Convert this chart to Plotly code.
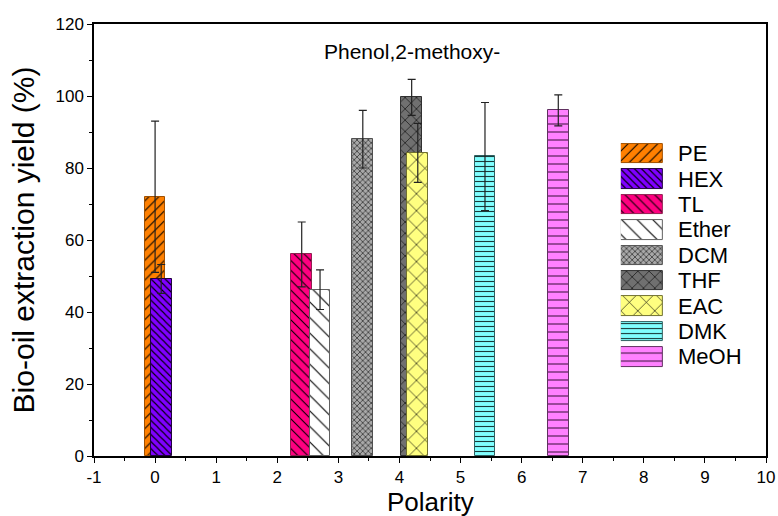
import plotly.graph_objects as go

solvents = ["PE", "HEX", "TL", "Ether", "DCM", "THF", "EAC", "DMK", "MeOH"]
polarity = [0.0, 0.1, 2.4, 2.7, 3.4, 4.2, 4.3, 5.4, 6.6]
yield_pct = [72.0, 49.2, 56.0, 46.2, 88.0, 99.6, 84.2, 83.2, 96.0]
yield_err = [21.0, 4.0, 9.0, 5.5, 8.0, 5.0, 8.2, 15.0, 4.3]
x_ticks = [-1, 0, 1, 2, 3, 4, 5, 6, 7, 8, 9, 10]
x_ticktext = ["-1", "0", "1", "2", "3", "4", "5", "6", "7", "8", "9", "10"]

fill_colors = ["#FF8000", "#7F00FF", "#FF0080", "#FFFFFF", "#A8A8A8",
               "#707070", "#FFFF80", "#80FFFF", "#FF80FF"]
edge_colors = ["#A05000", "#200040", "#902050", "#606060", "#505050",
               "#303030", "#707030", "#306060", "#603060"]
pattern_shapes = ["/", "\\", "\\", "\\", "x", "x", "x", "-", "-"]
pattern_sizes = [7, 5, 7, 11, 4, 8, 12, 5, 8]
pattern_solid = [0.15, 0.22, 0.15, 0.1, 0.25, 0.14, 0.1, 0.22, 0.14]
pattern_fg = ["#000000", "#000000", "#000000", "#000000", "#000000",
              "#000000", "#000000", "#1A3A3A", "#4A1A4A"]

BAR_W = 0.34
FONT = "Liberation Sans, Arial, sans-serif"

fig = go.Figure()


def pattern(i):
    return dict(shape=pattern_shapes[i], size=pattern_sizes[i], solidity=pattern_solid[i],
                fgcolor=pattern_fg[i], bgcolor=fill_colors[i], fillmode="replace")


for i, name in enumerate(solvents):
    fig.add_trace(go.Bar(
        x=[polarity[i]], y=[yield_pct[i]], width=BAR_W, name=name,
        marker=dict(color=fill_colors[i], pattern=pattern(i),
                    line=dict(color=edge_colors[i], width=1)),
        error_y=dict(type="data", array=[yield_err[i]], color="#222222",
                     thickness=1.2, width=4),
        showlegend=False, xaxis="x", yaxis="y",
    ))

# custom legend with large patterned swatches
LEG_X0, LEG_X1 = 0.784, 0.847
LEG_Y0, LEG_Y1 = 0.1998, 0.729
n = len(solvents)
for i, name in enumerate(solvents):
    fig.add_trace(go.Bar(
        x=[1], y=[i], base=0, orientation="h", width=0.77,
        marker=dict(color=fill_colors[i], pattern=pattern(i),
                    line=dict(color=edge_colors[i], width=1)),
        showlegend=False, xaxis="x2", yaxis="y2", hoverinfo="skip",
    ))
    ypaper = LEG_Y1 - (i + 0.5) / n * (LEG_Y1 - LEG_Y0)
    fig.add_annotation(x=0.866, y=ypaper, xref="paper", yref="paper", text=name,
                       showarrow=False, xanchor="left", yanchor="middle",
                       font=dict(family=FONT, size=22, color="black"))

fig.add_annotation(x=4.2, y=112.5, xref="x", yref="y", text="Phenol,2-methoxy-",
                   showarrow=False, font=dict(family=FONT, size=21, color="black"))

# x-axis title placed just below the tick labels
fig.add_annotation(x=0.5, y=-0.145, xref="paper", yref="paper", text="Polarity",
                   showarrow=False, xanchor="center", yanchor="bottom",
                   font=dict(family=FONT, size=26, color="black"))

axis_common = dict(showgrid=False, zeroline=False, showline=True, linecolor="black",
                   linewidth=1.5, mirror=True, ticks="outside", ticklen=5,
                   tickwidth=1.3, tickcolor="black", automargin=False,
                   tickfont=dict(family=FONT, size=17, color="black"))

fig.update_layout(
    width=778, height=516,
    margin=dict(l=94, r=12, t=24, b=60),
    paper_bgcolor="white", plot_bgcolor="white",
    barmode="overlay", bargap=0,
    showlegend=False,
    xaxis=dict(range=[-1, 10], tickvals=x_ticks, ticktext=x_ticktext,
               minor=dict(dtick=0.5, ticks="outside", ticklen=3, tickcolor="black"),
               **axis_common),
    yaxis=dict(range=[0, 120], dtick=20, tick0=0,
               minor=dict(dtick=10, ticks="outside", ticklen=3, tickcolor="black"),
               title=dict(text="Bio-oil extraction yield (%)",
                          font=dict(family=FONT, size=30, color="black"), standoff=12),
               **axis_common),
    xaxis2=dict(domain=[LEG_X0, LEG_X1], range=[0, 1], anchor="y2", visible=False,
                fixedrange=True),
    yaxis2=dict(domain=[LEG_Y0, LEG_Y1], range=[n - 0.5, -0.5], anchor="x2",
                visible=False, fixedrange=True),
)

fig.write_html("out.html")
